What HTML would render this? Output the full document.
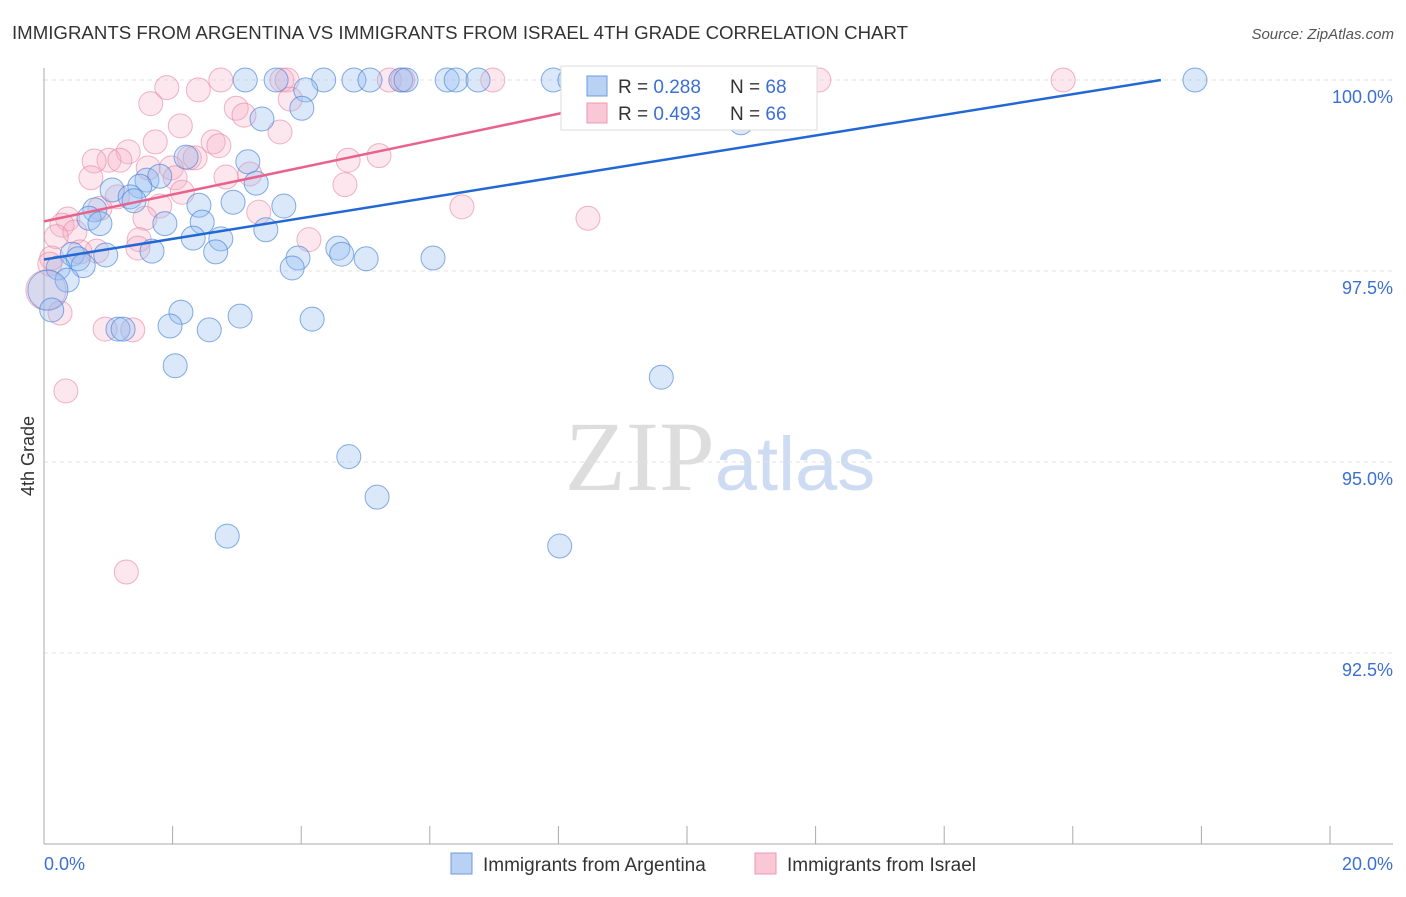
<!DOCTYPE html>
<html><head><meta charset="utf-8"><style>
body{margin:0;background:#fff;font-family:"Liberation Sans",sans-serif;}
</style></head><body>
<svg id="chart" width="1406" height="892" xmlns="http://www.w3.org/2000/svg" font-family="Liberation Sans, sans-serif">
<text x="12" y="39" font-size="18" fill="#333" textLength="896" lengthAdjust="spacingAndGlyphs">IMMIGRANTS FROM ARGENTINA VS IMMIGRANTS FROM ISRAEL 4TH GRADE CORRELATION CHART</text>
<text x="1394" y="39" font-size="15" fill="#555" text-anchor="end" font-style="italic">Source: ZipAtlas.com</text>
<text x="720" y="490" font-size="100" text-anchor="middle" font-family="Liberation Serif, serif" fill="#ddd">ZIP<tspan fill="#cddcf2" font-family="Liberation Sans, sans-serif" font-size="76">atlas</tspan></text>
<g id="grid"></g>
<g id="axes"></g>
<g id="pts"></g>
<g id="trends"></g>
<text transform="translate(34,456) rotate(-90)" font-size="18" fill="#333" text-anchor="middle">4th Grade</text>
<g>
<rect x="561" y="66" width="256" height="64" fill="#fff" stroke="#ddd"/>
<rect x="587" y="76" width="20" height="20" fill="#b9d1f3" stroke="#6c9be0"/>
<rect x="587" y="103" width="20" height="20" fill="#f9c7d6" stroke="#ec9ab4"/>
<text x="618" y="93" font-size="19" fill="#333">R = <tspan fill="#3b6fd4">0.288</tspan><tspan x="730">N = </tspan><tspan fill="#3b6fd4">68</tspan></text>
<text x="618" y="120" font-size="19" fill="#333">R = <tspan fill="#3b6fd4">0.493</tspan><tspan x="730">N = </tspan><tspan fill="#3b6fd4">66</tspan></text>
</g>
<g>
<rect x="451" y="853" width="21" height="21" fill="#b9d1f3" stroke="#6c9be0"/>
<text x="483" y="871" font-size="19" fill="#333">Immigrants from Argentina</text>
<rect x="755" y="853" width="21" height="21" fill="#f9c7d6" stroke="#ec9ab4"/>
<text x="787" y="871" font-size="19" fill="#333">Immigrants from Israel</text>
</g>
</svg>
<script>
const yTicks=[100,97.5,95,92.5];
const yTickLabels=["100.0%","97.5%","95.0%","92.5%"];
const xTickVals=[0,2,4,6,8,10,12,14,16,18,20];
const argX=[3.13,3.61,4.35,4.82,5.07,5.55,5.63,6.27,6.41,6.75,7.92,8.18,17.90,4.07,4.01,3.39,10.84,2.21,3.17,1.60,1.80,1.06,1.49,3.30,1.34,1.40,2.94,3.73,2.41,0.79,0.70,0.87,1.88,2.46,3.45,2.32,2.75,1.68,2.67,4.57,4.63,5.01,6.05,3.95,3.86,0.96,0.44,0.53,0.22,0.61,0.36,0.06,0.12,2.13,1.96,1.15,1.23,2.57,3.05,4.17,2.04,9.60,4.74,5.18,2.85,8.02];
const argY=[100,100,100,100,100,100,100,100,100,100,100,100,100,99.87,99.63,99.49,99.44,98.99,98.93,98.69,98.74,98.56,98.61,98.65,98.47,98.42,98.40,98.35,98.36,98.30,98.19,98.12,98.12,98.14,98.04,97.93,97.92,97.76,97.75,97.80,97.72,97.66,97.67,97.67,97.54,97.71,97.72,97.66,97.54,97.57,97.38,97.25,96.99,96.96,96.78,96.74,96.74,96.73,96.91,96.87,96.26,96.11,95.07,94.54,94.03,93.90];
const isrX=[2.75,3.70,3.78,5.37,5.58,6.98,10.40,12.05,15.85,1.91,2.40,3.83,1.66,2.99,3.11,2.12,3.67,1.73,2.63,2.72,1.31,1.01,0.78,1.18,2.26,2.35,4.73,5.21,1.62,1.98,0.73,2.04,2.83,3.20,2.15,4.68,1.14,0.87,1.80,3.34,6.50,8.46,1.57,0.37,0.28,0.48,0.19,1.48,4.12,1.46,0.82,0.56,0.12,0.09,0.03,0.25,0.95,1.38,0.34,1.28];
const isrY=[100,100,100,100,100,100,100,100,100,99.90,99.87,99.75,99.69,99.63,99.54,99.40,99.32,99.19,99.19,99.14,99.06,98.95,98.94,98.95,98.98,98.98,98.95,99.01,98.85,98.85,98.72,98.72,98.73,98.77,98.53,98.63,98.47,98.32,98.35,98.27,98.34,98.19,98.19,98.18,98.10,98.01,97.95,97.91,97.91,97.80,97.76,97.75,97.67,97.59,97.25,96.95,96.74,96.73,95.93,93.56];
const argTrendX=[0,17.37];
const argTrendY=[97.65,100];
const isrTrendX=[0,10.51];
const isrTrendY=[98.15,100];
const NS="http://www.w3.org/2000/svg";
const xs=v=>44+v*64.3;
const ys=v=>80+(100-v)*76.4;
function mk(p,t,a){const e=document.createElementNS(NS,t);for(const k in a)e.setAttribute(k,a[k]);document.getElementById(p).appendChild(e);return e;}
yTicks.forEach((t,i)=>{
 const l=mk('grid','line',{x1:44,x2:1393,y1:ys(t),y2:ys(t),stroke:'#e2e2e2','stroke-dasharray':'4,4'});
 
 
 const tx=mk('grid','text',{x:1393,y:ys(t)+23,'font-size':18,fill:'#3b6fd4','text-anchor':'end'});
 tx.textContent=yTickLabels[i];
 
 
});
const ax=mk('axes','line',{x1:44,x2:44,y1:68,y2:844,stroke:'#aaa'});


const bx=mk('axes','line',{x1:44,x2:1393,y1:844,y2:844,stroke:'#aaa'});


xTickVals.forEach(v=>{
 const t=mk('axes','line',{x1:xs(v),x2:xs(v),y1:826,y2:844,stroke:'#aaa'});
 
 
});
[["0.0%",44,'start'],["20.0%",1393,'end']].forEach(a=>{
 const t=mk('axes','text',{x:a[1],y:870,'font-size':18,fill:'#3b6fd4','text-anchor':a[2]});
 t.textContent=a[0];
 
 
});
function drawPts(X,Y,fill,stroke,name){
 X.forEach((x,i)=>{
  const big=(x<0.1&&Y[i]>97.2&&Y[i]<97.3);
  const c=mk('pts','circle',{cx:xs(x),cy:ys(Y[i]),r:big?20:12,fill:fill,stroke:stroke,'stroke-width':1});
  
  
 });
}
drawPts(isrX,isrY,'rgba(246,175,198,0.3)','rgba(232,130,160,0.6)','israel-point');
drawPts(argX,argY,'rgba(150,190,240,0.35)','rgba(70,130,215,0.65)','argentina-point');
const l1=mk('trends','line',{x1:xs(argTrendX[0]),y1:ys(argTrendY[0]),x2:xs(argTrendX[1]),y2:ys(argTrendY[1]),stroke:'#2268d4','stroke-width':2.5});


const l2=mk('trends','line',{x1:xs(isrTrendX[0]),y1:ys(isrTrendY[0]),x2:xs(isrTrendX[1]),y2:ys(isrTrendY[1]),stroke:'#e8628c','stroke-width':2.5});


</script>
</body></html>
